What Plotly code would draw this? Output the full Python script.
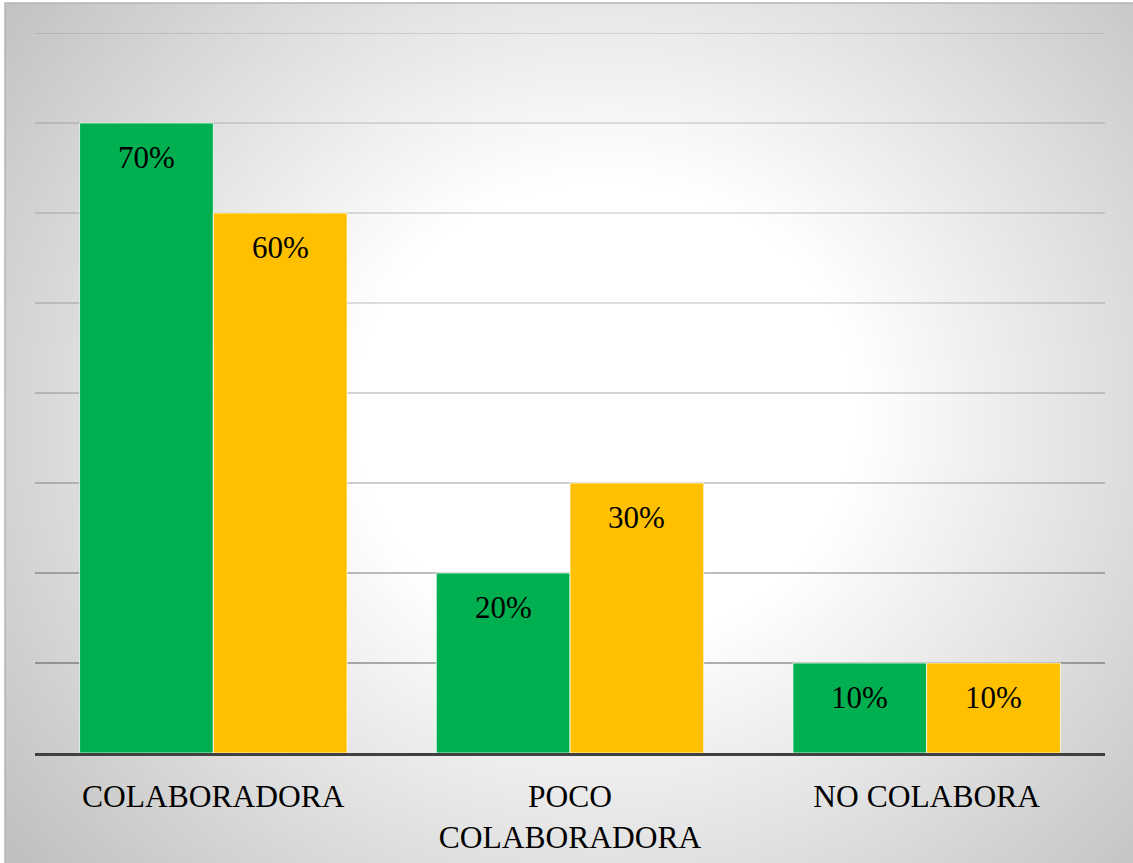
import base64
import plotly.graph_objects as go

# Chart data
categories = ["COLABORADORA", "POCO<br>COLABORADORA", "NO COLABORA"]
series_green = [0.70, 0.20, 0.10]
series_yellow = [0.60, 0.30, 0.10]
y_ticks = [0.1, 0.2, 0.3, 0.4, 0.5, 0.6, 0.7, 0.8]

W, H = 1133, 863
L, R, T, B = 35, 28, 33, 110
PW, PH = W - L - R, H - T - B

GREEN = "#00B050"
YELLOW = "#FFC000"
FONT = "Liberation Serif"


def px_x(px):
    return (px - L) / PW


def px_y(py):
    return (H - B - py) / PH


# Soft radial background (white centre fading to grey edges)
bx, by = 5, 3
bw, bh = W - bx, H - by
svg = f"""<svg xmlns='http://www.w3.org/2000/svg' width='{bw}' height='{bh}' viewBox='0 0 {bw} {bh}' preserveAspectRatio='none'>
<defs><radialGradient id='g' gradientUnits='userSpaceOnUse' cx='0' cy='0' r='1'
 gradientTransform='translate(600,410) scale(760,700)'>
<stop offset='0' stop-color='#ffffff'/>
<stop offset='0.33' stop-color='#ffffff'/>
<stop offset='1' stop-color='#c0c0c0'/>
</radialGradient></defs>
<rect x='0' y='0' width='{bw}' height='{bh}' fill='url(#g)'/>
</svg>"""
bg_uri = "data:image/svg+xml;base64," + base64.b64encode(svg.encode()).decode()

fig = go.Figure()
bar_line = dict(color="rgba(255,255,255,0.75)", width=1)
fig.add_trace(go.Bar(x=categories, y=series_green, marker=dict(color=GREEN, line=bar_line),
                     hoverinfo="skip"))
fig.add_trace(go.Bar(x=categories, y=series_yellow, marker=dict(color=YELLOW, line=bar_line),
                     hoverinfo="skip"))

# Value labels inside the top of each bar
bar_w = PW / len(categories) * 0.75 / 2
annotations = []
for vals, sign in ((series_green, -1), (series_yellow, 1)):
    for cat, v in zip(categories, vals):
        annotations.append(dict(
            x=cat, y=v, xref="x", yref="y", text=f"{round(v * 100)}%",
            showarrow=False, xshift=sign * bar_w / 2, yshift=-34, yanchor="middle",
            font=dict(family=FONT, size=31, color="black"),
        ))

# Gridlines get darker towards the bottom of the plot
grid_alpha = [0.40, 0.34, 0.26, 0.22, 0.18, 0.16, 0.15, 0.15]
shapes = []
for v, a in zip(y_ticks, grid_alpha):
    shapes.append(dict(type="line", xref="paper", yref="y", x0=0, x1=1, y0=v, y1=v,
                       line=dict(color=f"rgba(0,0,0,{a})", width=1.5), layer="below"))
# Outer frame
shapes.append(dict(type="rect", xref="paper", yref="paper",
                   x0=px_x(bx), x1=px_x(W + 2), y0=px_y(by), y1=px_y(H + 2),
                   line=dict(color="#b5b5b5", width=1.5), layer="above"))

fig.update_layout(
    width=W, height=H,
    margin=dict(l=L, r=R, t=T, b=B, autoexpand=False),
    barmode="group", bargap=0.25, bargroupgap=0,
    showlegend=False,
    font=dict(family=FONT),
    paper_bgcolor="white", plot_bgcolor="rgba(0,0,0,0)",
    images=[dict(source=bg_uri, xref="paper", yref="paper", x=px_x(bx), y=px_y(by),
                 sizex=bw / PW, sizey=bh / PH, xanchor="left", yanchor="top",
                 sizing="stretch", layer="below")],
    shapes=shapes,
    annotations=annotations,
    xaxis=dict(showgrid=False, showline=True, linecolor="#404040", linewidth=3,
               ticks="", ticklabelstandoff=13, automargin=False,
               tickfont=dict(family=FONT, size=31.5, color="black"),
               fixedrange=True),
    yaxis=dict(range=[0, 0.8], showgrid=False, zeroline=False, showticklabels=False,
               tickvals=y_ticks, automargin=False, fixedrange=True),
)

fig.write_html("out.html")
